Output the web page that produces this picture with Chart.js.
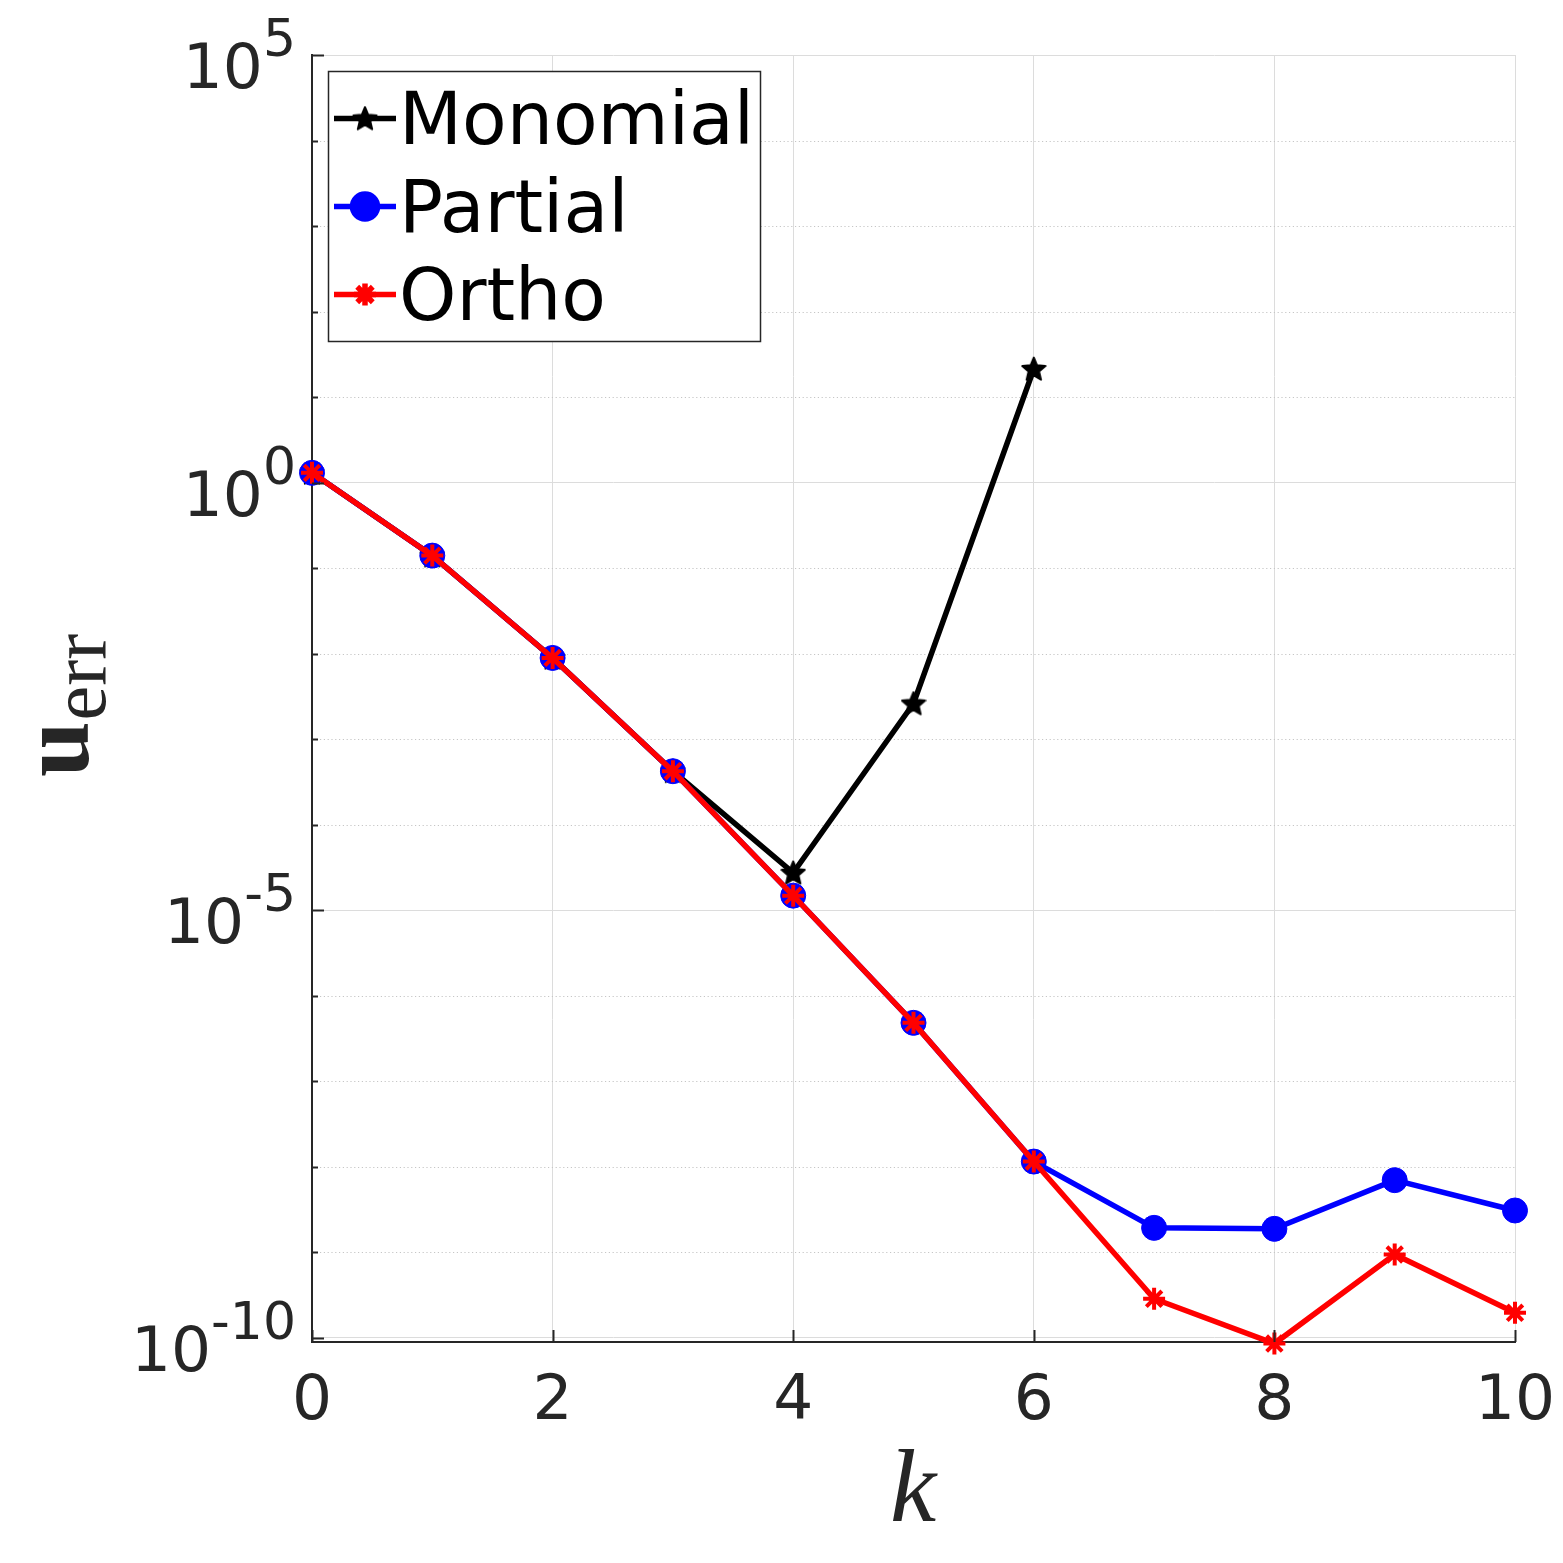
<!DOCTYPE html>
<html>
<head>
<meta charset="utf-8">
<script src="https://cdn.jsdelivr.net/npm/chart.js@4/dist/chart.umd.min.js"></script>
<style>
  html, body { margin: 0; padding: 0; background: #ffffff; }
  #wrap { width: 1563px; height: 1563px; }
</style>
</head>
<body>
<div id="wrap"><canvas id="c" width="1563" height="1563"></canvas></div>
<script>
// ---------------- data ----------------
const kValues = [0, 1, 2, 3, 4, 5, 6, 7, 8, 9, 10];
const seriesNames = ['Monomial', 'Partial', 'Ortho'];
const monomialErr = [1.30, 0.140, 8.91e-3, 4.22e-4, 2.74e-5, 2.61e-3, 21.3];
const partialErr  = [1.30, 0.140, 8.91e-3, 4.22e-4, 1.48e-5, 4.82e-7, 1.15e-8, 1.93e-9, 1.88e-9, 6.97e-9, 3.08e-9];
const orthoErr    = [1.30, 0.140, 8.91e-3, 4.22e-4, 1.48e-5, 4.82e-7, 1.15e-8, 2.86e-10, 8.57e-11, 9.42e-10, 1.96e-10];
const yGridExps   = [5, 4, 3, 2, 1, 0, -1, -2, -3, -4, -5, -6, -7, -8, -9, -10];
const yLabelExps  = [5, 0, -5, -10];
const yLabelTexts = ['5', '0', '-5', '-10'];
const xTickValues = [0, 2, 4, 6, 8, 10];
const xTickTexts  = ['0', '2', '4', '6', '8', '10'];
const yMin = 8.93e-11, yMax = 1e5;

// ---------------- styles ----------------
const TXT = '#262626';
function makePentagram(size, color) {
  const cv = document.createElement('canvas');
  cv.width = size; cv.height = size;
  const g = cv.getContext('2d');
  const cx = size / 2, cy = size / 2 + 0.8, R = size / 2 - 0.8, r = R * 0.45;
  g.beginPath();
  for (let i = 0; i < 10; i++) {
    const ang = -Math.PI / 2 + i * Math.PI / 5;
    const rr = (i % 2 === 0) ? R : r;
    const px = cx + rr * Math.cos(ang), py = cy + rr * Math.sin(ang);
    if (i === 0) g.moveTo(px, py); else g.lineTo(px, py);
  }
  g.closePath();
  g.fillStyle = color; g.fill();
  g.strokeStyle = color; g.lineWidth = 2; g.lineJoin = 'round'; g.stroke();
  return cv;
}
const starImg = makePentagram(26, '#000000');

const toPts = arr => arr.map((v, i) => ({ x: kValues[i], y: v }));

const datasets = [
  { label: seriesNames[0], data: toPts(monomialErr), borderColor: '#000000', backgroundColor: '#000000',
    borderWidth: 5.5, pointStyle: starImg, pointRadius: 13, order: 2, clip: false, tension: 0 },
  { label: seriesNames[1], data: toPts(partialErr), borderColor: '#0000ff', backgroundColor: '#0000ff',
    borderWidth: 5.5, pointStyle: 'circle', pointRadius: 12.5, pointBorderWidth: 1, pointBorderColor: '#0000ff',
    pointBackgroundColor: '#0000ff', order: 1, clip: false, tension: 0 },
  { label: seriesNames[2], data: toPts(orthoErr), borderColor: '#ff0000', backgroundColor: '#ff0000',
    borderWidth: 5.5, pointStyle: 'star', pointRadius: 11, pointBorderWidth: 4, pointBorderColor: '#ff0000',
    pointBackgroundColor: '#ff0000', order: 0, clip: false, tension: 0 }
];

const isMajor = v => Math.abs(Math.round(Math.log10(v))) % 5 === 0;

const decor = {
  id: 'decor',
  beforeDatasetsDraw(chart) {
    const ys = chart.scales.y, a = chart.chartArea, ctx = chart.ctx;
    ctx.save();
    ctx.strokeStyle = '#c6c6c6'; ctx.lineWidth = 1; ctx.setLineDash([1.2, 2.6]);
    ys.ticks.forEach(t => {
      if (!isMajor(t.value)) {
        const py = Math.round(ys.getPixelForValue(t.value)) + 0.5;
        ctx.beginPath(); ctx.moveTo(a.left + 8, py); ctx.lineTo(a.right, py); ctx.stroke();
      }
    });
    ctx.restore();
  },
  afterDraw(chart) {
    const ctx = chart.ctx, a = chart.chartArea, ys = chart.scales.y, xs = chart.scales.x;
    ctx.save();
    // inward tick marks
    ctx.strokeStyle = TXT; ctx.lineWidth = 2; ctx.setLineDash([]);
    ys.ticks.forEach(t => {
      const py = Math.round(ys.getPixelForValue(t.value)) + 0.5;
      const len = isMajor(t.value) ? 12 : 6;
      ctx.beginPath(); ctx.moveTo(a.left, py); ctx.lineTo(a.left + len, py); ctx.stroke();
    });
    xs.ticks.forEach(t => {
      const px = Math.round(xs.getPixelForValue(t.value)) + 0.5;
      ctx.beginPath(); ctx.moveTo(px, a.bottom); ctx.lineTo(px, a.bottom - 12); ctx.stroke();
    });
    // y tick labels 10^e
    ctx.fillStyle = TXT; ctx.textBaseline = 'alphabetic';
    yLabelExps.forEach((e, i) => {
      const py = ys.getPixelForValue(Math.pow(10, e));
      ctx.font = '52px "DejaVu Sans"';
      const sw = ctx.measureText(yLabelTexts[i]).width;
      const right = 296;
      ctx.textAlign = 'left';
      ctx.fillText(yLabelTexts[i], right - sw, py + 1);
      ctx.font = '63px "DejaVu Sans"';
      ctx.textAlign = 'right';
      ctx.fillText('10', right - sw, py + 33);
    });
    // x tick labels
    ctx.font = '63px "DejaVu Sans"'; ctx.textAlign = 'center';
    xTickValues.forEach((v, i) => {
      ctx.fillText(xTickTexts[i], xs.getPixelForValue(v), 1419);
    });
    // x axis title
    ctx.font = 'italic 104px "Liberation Serif"'; ctx.textAlign = 'center';
    ctx.fillText('k', 913, 1521);
    // y axis title u_err
    ctx.save();
    ctx.translate(88, 777); ctx.rotate(-Math.PI / 2);
    ctx.textAlign = 'left';
    ctx.font = 'bold 100px "Liberation Serif"';
    ctx.fillText('u', 0, 0);
    const uw = ctx.measureText('u').width;
    ctx.font = '78px "Liberation Serif"';
    ctx.fillText('err', uw + 1, 17);
    ctx.restore();
    // legend
    const lx = 328.5, ly = 71.5, lw = 432, lh = 270;
    ctx.fillStyle = '#ffffff'; ctx.fillRect(lx, ly, lw, lh);
    ctx.strokeStyle = TXT; ctx.lineWidth = 1.5; ctx.strokeRect(lx, ly, lw, lh);
    const rows = [118.5, 206.5, 294.5];
    chart.data.datasets.forEach((ds, i) => {
      const ry = rows[i];
      ctx.strokeStyle = ds.borderColor; ctx.lineWidth = 5.5; ctx.setLineDash([]);
      ctx.beginPath(); ctx.moveTo(334, ry); ctx.lineTo(396, ry); ctx.stroke();
      ctx.fillStyle = ds.backgroundColor; ctx.strokeStyle = ds.borderColor;
      Chart.helpers.drawPoint(ctx, { pointStyle: ds.pointStyle, radius: ds.pointRadius, rotation: 0,
        borderWidth: ds.pointBorderWidth || 1 }, 365, ry);
      ctx.fillStyle = '#000000'; ctx.textAlign = 'left';
      ctx.font = '73px "DejaVu Sans"';
      ctx.fillText(ds.label, 399, ry + 25);
    });
    ctx.restore();
  }
};

new Chart(document.getElementById('c'), {
  type: 'line',
  data: { datasets },
  plugins: [decor],
  options: {
    responsive: false,
    devicePixelRatio: 1,
    animation: false,
    layout: { padding: { top: 55, right: 48, left: 0, bottom: 0 } },
    plugins: { legend: { display: false }, tooltip: { enabled: false } },
    scales: {
      x: {
        type: 'linear', min: 0, max: 10,
        ticks: { display: false, stepSize: 2 },
        afterBuildTicks: s => { s.ticks = xTickValues.map(v => ({ value: v })); },
        afterFit: s => { s.height = 221; },
        grid: { color: '#dcdcdc', lineWidth: 1, drawTicks: false },
        border: { display: true, color: TXT, width: 2 }
      },
      y: {
        type: 'logarithmic', min: yMin, max: yMax,
        ticks: { display: false },
        afterBuildTicks: s => { s.ticks = yGridExps.map(e => ({ value: Math.pow(10, e) })); },
        afterFit: s => { s.width = 312; },
        grid: { color: c => (c.tick && isMajor(c.tick.value)) ? '#dcdcdc' : 'rgba(0,0,0,0)', lineWidth: 1, drawTicks: false },
        border: { display: true, color: TXT, width: 2 }
      }
    }
  }
});
</script>
</body>
</html>
